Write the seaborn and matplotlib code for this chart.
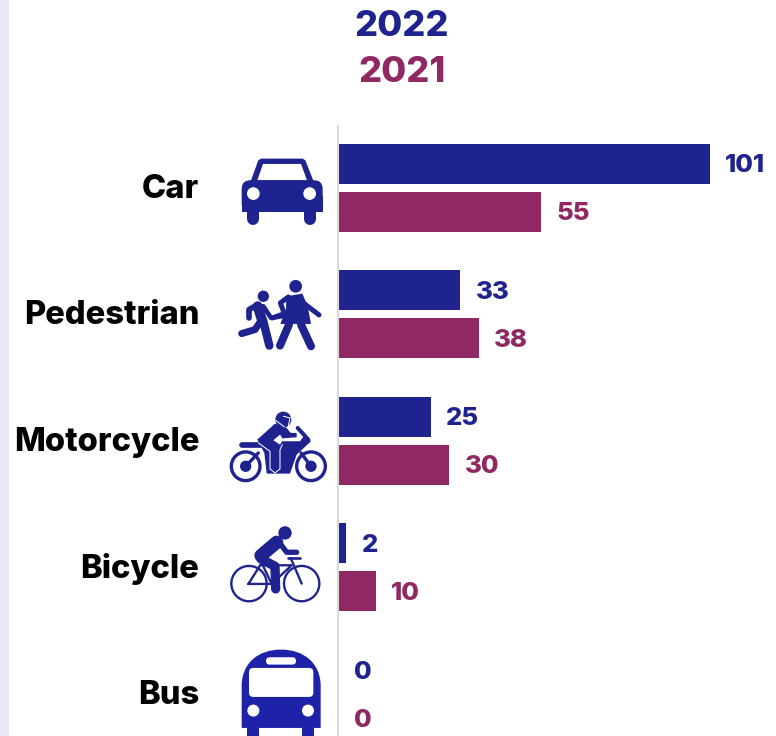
import numpy as np
import pandas as pd
import matplotlib
matplotlib.use('Agg')
import matplotlib.pyplot as plt
import seaborn as sns
from matplotlib.path import Path
from matplotlib.patches import Circle, Polygon, FancyBboxPatch, Rectangle, PathPatch
from matplotlib.transforms import Affine2D, ScaledTranslation

categories = ['Car', 'Pedestrian', 'Motorcycle', 'Bicycle', 'Bus']
values_2022 = [101, 33, 25, 2, 0]
values_2021 = [55, 38, 30, 10, 0]
years = ['2022', '2021']

NAVY = '#1f2390'
MAROON = '#902864'
BUS = '#1d22a8'

df = pd.DataFrame({
    'mode': categories * 2,
    'count': values_2022 + values_2021,
    'year': ['2022'] * 5 + ['2021'] * 5,
})

sns.set_style('white')
plt.rcParams['font.family'] = ['Inter', 'DejaVu Sans']

W, H = 776, 736
x0 = 339
fig = plt.figure(figsize=(W / 100, H / 100), dpi=100, facecolor='white')
ax = fig.add_axes([x0 / W, 0, 1 - x0 / W, 1])
ax.patch.set_alpha(0)

sns.barplot(data=df, y='mode', x='count', hue='year', hue_order=years,
            palette=[NAVY, MAROON], saturation=1, width=0.758, gap=0.167,
            linewidth=0, edgecolor='none', legend=False, ax=ax)

# first row sits at y=188px, zero at x=339px
x_scale = 3.673
row_h = 126.6
row0 = 187.6
ax.set_xlim(0, (W - x0) / x_scale)
ax.set_ylim((H - row0) / row_h, -row0 / row_h)

for spine in ax.spines.values():
    spine.set_visible(False)
ax.set_xlabel('')
ax.set_ylabel('')
ax.set_xticks([])
ax.tick_params(axis='y', length=0, pad=100.5, labelsize=23.5)
for lab in ax.get_yticklabels():
    lab.set_fontweight(800)
    lab.set_color('black')
    lab.set_transform(lab.get_transform() + ScaledTranslation(0, 0.02, fig.dpi_scale_trans))

for cont, col in zip(ax.containers, [NAVY, MAROON]):
    labs = ax.bar_label(cont, padding=11, color=col, fontsize=18.5, fontweight=800)
    for a in labs:
        a.xyann = (a.xyann[0], a.xyann[1] - 1.5)

fig.text(402 / W, 1 - 26 / H, years[0], color=NAVY, fontsize=26, fontweight=800,
         ha='center', va='center')
fig.text(402 / W, 1 - 72 / H, years[1], color=MAROON, fontsize=26, fontweight=800,
         ha='center', va='center')

# overlay in pixels for the frame bits and icons
ix = fig.add_axes([0, 0, 1, 1])
ix.set_xlim(0, W)
ix.set_ylim(H, 0)
ix.axis('off')
ix.patch.set_alpha(0)

ix.add_patch(Rectangle((0, 0), 9, H, color='#e8e9f6', lw=0))
ix.plot([338, 338], [125, H], color='#d9d9d9', lw=1.5, solid_capstyle='butt')


def place(row, anchor):
    y = row0 + row * row_h
    return Affine2D().scale(1 / 3).translate(225, y - anchor) + ix.transData


def poly(tr, pts, col=NAVY):
    ix.add_patch(Polygon(pts, closed=True, fc=col, ec='none', transform=tr))


def dot(tr, x, y, r, col=NAVY):
    ix.add_patch(Circle((x, y), r, fc=col, ec='none', transform=tr))


def ring(tr, x, y, r, w, col=NAVY):
    ix.add_patch(Circle((x, y), r, fc='none', ec=col, lw=w * 0.24, transform=tr))


def stroke(tr, pts, w, col=NAVY, cap='round'):
    xs = [p[0] for p in pts]
    ys = [p[1] for p in pts]
    ix.plot(xs, ys, color=col, lw=w * 0.24, solid_capstyle=cap,
            solid_joinstyle='round', transform=tr)


def rbox(tr, x, y, w, h, r, col=NAVY):
    ix.add_patch(FancyBboxPatch((x, y), w, h, boxstyle=f'round,pad=0,rounding_size={r}',
                                fc=col, ec='none', transform=tr))


# car
t = place(0, 48)
poly(t, [(76, 128), (100, 62), (108, 57), (233, 57), (241, 62), (267, 128)])
poly(t, [(97, 122), (114, 73), (228, 73), (246, 122)], 'white')
rbox(t, 50, 122, 243, 95, 26)
poly(t, [(50, 170), (293, 170), (293, 217), (50, 217)])
stroke(t, [(85, 215), (85, 238)], 36)
stroke(t, [(254, 215), (254, 238)], 36)
dot(t, 85, 162, 19, 'white')
dot(t, 254, 162, 19, 'white')

# pedestrians
t = place(1, 174.6)
dot(t, 212, 440, 19)
poly(t, [(184, 470), (232, 462), (248, 500), (258, 553), (166, 553), (183, 510)])
stroke(t, [(190, 472), (166, 490), (178, 522), (142, 535)], 15)
stroke(t, [(235, 490), (282, 526)], 15)
stroke(t, [(192, 555), (165, 618)], 24)
stroke(t, [(228, 555), (258, 620)], 24)
dot(t, 115, 470, 17)
stroke(t, [(98, 500), (112, 545)], 30)
stroke(t, [(95, 497), (72, 510), (72, 535)], 17)
stroke(t, [(115, 500), (138, 535), (170, 530)], 14)
stroke(t, [(105, 548), (90, 570), (50, 582)], 21)
stroke(t, [(115, 545), (133, 618)], 25)

# motorcycle
t = place(2, 41.2)
ring(t, 62, 200, 43, 10)
ring(t, 258, 200, 43, 10)
dot(t, 62, 200, 17)
dot(t, 258, 200, 17)
stroke(t, [(62, 200), (100, 160)], 10)
stroke(t, [(258, 200), (228, 160)], 10)
stroke(t, [(52, 137), (110, 137)], 17)
poly(t, [(97, 120), (150, 72), (185, 85), (197, 100), (215, 100), (215, 113), (175, 116),
         (172, 125), (225, 125), (240, 105), (258, 125), (215, 165), (195, 222), (125, 222),
         (118, 160)])
stroke(t, [(218, 85), (250, 120)], 12)
poly(t, [(145, 122), (165, 105), (175, 120), (165, 135)], 'white')
stroke(t, [(100, 130), (135, 155), (135, 208), (150, 220), (165, 208), (165, 150), (172, 135)],
       3, 'white')
stroke(t, [(170, 120), (212, 120)], 3, 'white')
dot(t, 175, 60, 24)
stroke(t, [(175, 50), (195, 55), (190, 78)], 3, 'white')
stroke(t, [(152, 62), (178, 82)], 3, 'white')

# bicycle
t = place(3, 167.8)
ring(t, 72, 552, 53, 7)
ring(t, 230, 552, 53, 7)
dot(t, 180, 400, 20)
stroke(t, [(70, 553), (110, 490), (140, 553), (70, 553)], 7)
stroke(t, [(110, 497), (200, 497), (140, 553)], 7)
stroke(t, [(197, 475), (230, 552)], 7)
stroke(t, [(190, 475), (224, 475)], 8)
stroke(t, [(108, 468), (155, 428)], 40)
stroke(t, [(160, 425), (185, 458), (215, 458)], 16)
stroke(t, [(108, 478), (150, 500), (152, 568)], 28)

# bus
t = place(4, 294.4)
body = Path([(50, 985), (50, 860), (50, 790), (100, 750), (168, 750), (236, 750), (287, 790),
             (287, 860), (287, 985), (50, 985)],
            [Path.MOVETO, Path.LINETO, Path.CURVE4, Path.CURVE4, Path.CURVE4, Path.CURVE4,
             Path.CURVE4, Path.CURVE4, Path.LINETO, Path.CLOSEPOLY])
ix.add_patch(PathPatch(body, fc=BUS, ec='none', transform=t))
poly(t, [(67, 980), (103, 980), (103, 1030), (67, 1030)], BUS)
poly(t, [(231, 980), (267, 980), (267, 1030), (231, 1030)], BUS)
rbox(t, 72, 805, 193, 87, 13, 'white')
rbox(t, 123, 773, 90, 22, 11, 'white')
dot(t, 85, 933, 18, 'white')
dot(t, 249, 933, 18, 'white')

plt.savefig('out.png', dpi=100)
